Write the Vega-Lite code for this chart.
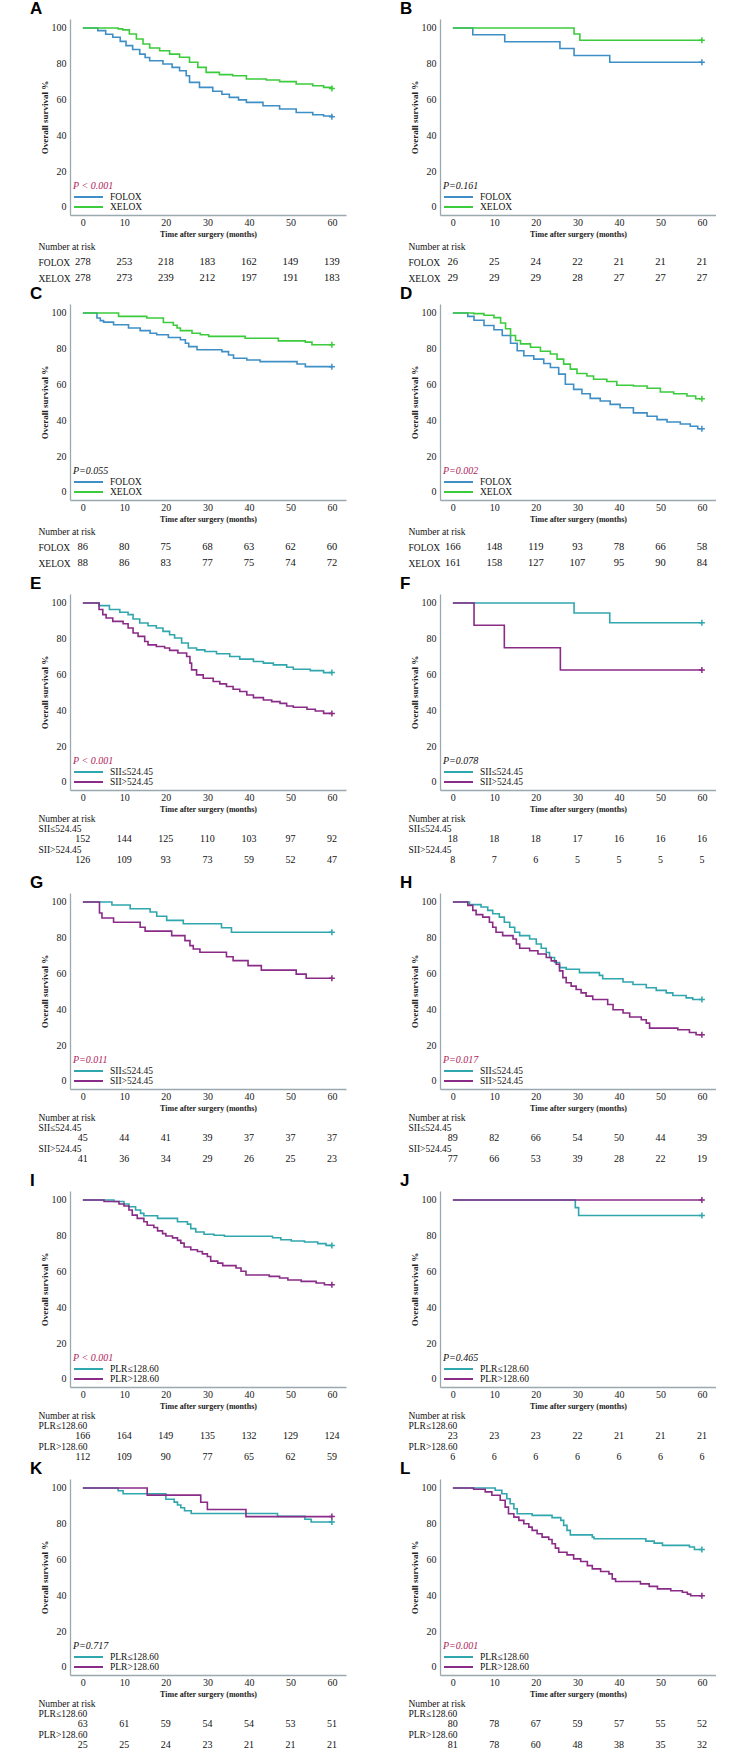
{
"$schema":"https://vega.github.io/schema/vega-lite/v6.json",
"padding":{"left":30,"top":0,"right":0,"bottom":0},
"background":"white",
"config":{
"view":{"stroke":null},
"font":"Liberation Serif",
"title":{"font":"Liberation Sans","fontSize":17,"fontWeight":"bold","anchor":"start","frame":"group","dx":-40,"offset":1,"color":"black"},
"axis":{"domainColor":"#9aa9ae","domainWidth":1.3,"ticks":false,"tickSize":0,"grid":false,"labelFont":"Liberation Serif","labelFontSize":10,"labelColor":"#222","titleFont":"Liberation Serif","titleFontWeight":"bold","titleColor":"#222","labelFlush":false},
"axisX":{"labelPadding":2,"titleFontSize":8,"titlePadding":3},
"axisY":{"labelPadding":4,"titleFontSize":9,"titlePadding":2},
"legend":{"orient":"bottom-left","offset":3,"padding":0,"symbolType":"stroke","symbolSize":841,"symbolStrokeWidth":2,"clipHeight":10,"rowPadding":0,"labelFont":"Liberation Serif","labelFontSize":9.5,"labelColor":"#111","labelOffset":6,"titleFont":"Liberation Serif","titleFontSize":10,"titleFontWeight":"normal","titleFontStyle":"italic","titlePadding":1,"titleColor":"#111","labelLimit":200}
},
"datasets":{
"km":[
{"p":"A","g":"FOLOX","t":0,"s":100},{"p":"A","g":"FOLOX","t":3.6,"s":98.5},{"p":"A","g":"FOLOX","t":5.5,"s":96.5},{"p":"A","g":"FOLOX","t":7.2,"s":94.8},{"p":"A","g":"FOLOX","t":9,"s":92.5},{"p":"A","g":"FOLOX","t":10.4,"s":90.1},{"p":"A","g":"FOLOX","t":12,"s":88},{"p":"A","g":"FOLOX","t":13.7,"s":85.4},{"p":"A","g":"FOLOX","t":15,"s":83.5},{"p":"A","g":"FOLOX","t":16.1,"s":81.7},{"p":"A","g":"FOLOX","t":19.3,"s":79.9},{"p":"A","g":"FOLOX","t":21.5,"s":78},{"p":"A","g":"FOLOX","t":23.3,"s":76.1},{"p":"A","g":"FOLOX","t":24.9,"s":73.3},{"p":"A","g":"FOLOX","t":25.7,"s":69.6},{"p":"A","g":"FOLOX","t":28.1,"s":66.8},{"p":"A","g":"FOLOX","t":31.3,"s":64.6},{"p":"A","g":"FOLOX","t":33.5,"s":63},{"p":"A","g":"FOLOX","t":35.3,"s":61.2},{"p":"A","g":"FOLOX","t":37.5,"s":59.8},{"p":"A","g":"FOLOX","t":39.4,"s":58.4},{"p":"A","g":"FOLOX","t":43.4,"s":56.5},{"p":"A","g":"FOLOX","t":47.4,"s":54.7},{"p":"A","g":"FOLOX","t":51.4,"s":52.8},{"p":"A","g":"FOLOX","t":55.4,"s":51.5},{"p":"A","g":"FOLOX","t":58,"s":50.8},{"p":"A","g":"FOLOX","t":60,"s":50.4},
{"p":"A","g":"XELOX","t":0,"s":100},{"p":"A","g":"XELOX","t":8.5,"s":99.5},{"p":"A","g":"XELOX","t":9.6,"s":98.9},{"p":"A","g":"XELOX","t":11.2,"s":96.6},{"p":"A","g":"XELOX","t":12.9,"s":93.8},{"p":"A","g":"XELOX","t":14.5,"s":91},{"p":"A","g":"XELOX","t":16.1,"s":88.8},{"p":"A","g":"XELOX","t":18.5,"s":87.3},{"p":"A","g":"XELOX","t":20.9,"s":85.4},{"p":"A","g":"XELOX","t":23.3,"s":83.6},{"p":"A","g":"XELOX","t":25.7,"s":80.8},{"p":"A","g":"XELOX","t":27.7,"s":78},{"p":"A","g":"XELOX","t":29.7,"s":75.2},{"p":"A","g":"XELOX","t":32.9,"s":73.9},{"p":"A","g":"XELOX","t":36.1,"s":73.3},{"p":"A","g":"XELOX","t":39.4,"s":71.5},{"p":"A","g":"XELOX","t":44.2,"s":70.9},{"p":"A","g":"XELOX","t":47.4,"s":70},{"p":"A","g":"XELOX","t":51.4,"s":68.7},{"p":"A","g":"XELOX","t":55.4,"s":67.7},{"p":"A","g":"XELOX","t":58,"s":66.8},{"p":"A","g":"XELOX","t":60,"s":66.2},
{"p":"B","g":"FOLOX","t":0,"s":100},{"p":"B","g":"FOLOX","t":4.8,"s":96.2},{"p":"B","g":"FOLOX","t":12.5,"s":92.3},{"p":"B","g":"FOLOX","t":25.8,"s":88.5},{"p":"B","g":"FOLOX","t":29.2,"s":84.6},{"p":"B","g":"FOLOX","t":37.8,"s":80.8},{"p":"B","g":"FOLOX","t":60,"s":80.8},
{"p":"B","g":"XELOX","t":0,"s":100},{"p":"B","g":"XELOX","t":29.2,"s":96.6},{"p":"B","g":"XELOX","t":30.6,"s":93.1},{"p":"B","g":"XELOX","t":60,"s":93.1},
{"p":"C","g":"FOLOX","t":0,"s":100},{"p":"C","g":"FOLOX","t":3.4,"s":97.2},{"p":"C","g":"FOLOX","t":4.2,"s":95.7},{"p":"C","g":"FOLOX","t":5,"s":94.9},{"p":"C","g":"FOLOX","t":7.4,"s":93.4},{"p":"C","g":"FOLOX","t":11,"s":91.6},{"p":"C","g":"FOLOX","t":13.8,"s":90.1},{"p":"C","g":"FOLOX","t":16.2,"s":88.7},{"p":"C","g":"FOLOX","t":17.8,"s":87.8},{"p":"C","g":"FOLOX","t":20.6,"s":86.3},{"p":"C","g":"FOLOX","t":23.5,"s":85},{"p":"C","g":"FOLOX","t":24.7,"s":83.1},{"p":"C","g":"FOLOX","t":25.5,"s":81.2},{"p":"C","g":"FOLOX","t":27.5,"s":79.4},{"p":"C","g":"FOLOX","t":33.5,"s":78.4},{"p":"C","g":"FOLOX","t":35.1,"s":76.5},{"p":"C","g":"FOLOX","t":36.3,"s":74.7},{"p":"C","g":"FOLOX","t":39.5,"s":73.7},{"p":"C","g":"FOLOX","t":42.7,"s":72.8},{"p":"C","g":"FOLOX","t":51.6,"s":71.5},{"p":"C","g":"FOLOX","t":53.6,"s":70},{"p":"C","g":"FOLOX","t":60,"s":70},
{"p":"C","g":"XELOX","t":0,"s":100},{"p":"C","g":"XELOX","t":8.6,"s":98.1},{"p":"C","g":"XELOX","t":15.4,"s":97.2},{"p":"C","g":"XELOX","t":19.4,"s":94.7},{"p":"C","g":"XELOX","t":21.8,"s":93.1},{"p":"C","g":"XELOX","t":22.7,"s":91.6},{"p":"C","g":"XELOX","t":23.5,"s":90.1},{"p":"C","g":"XELOX","t":26.3,"s":88.7},{"p":"C","g":"XELOX","t":28.3,"s":87.8},{"p":"C","g":"XELOX","t":30.3,"s":86.9},{"p":"C","g":"XELOX","t":39.1,"s":85.9},{"p":"C","g":"XELOX","t":47.1,"s":84.4},{"p":"C","g":"XELOX","t":53.6,"s":83.7},{"p":"C","g":"XELOX","t":55.2,"s":82.2},{"p":"C","g":"XELOX","t":60,"s":82.2},
{"p":"D","g":"FOLOX","t":0,"s":100},{"p":"D","g":"FOLOX","t":3.6,"s":98.1},{"p":"D","g":"FOLOX","t":5.1,"s":95.9},{"p":"D","g":"FOLOX","t":7.5,"s":93},{"p":"D","g":"FOLOX","t":9.9,"s":90.6},{"p":"D","g":"FOLOX","t":11.9,"s":87.4},{"p":"D","g":"FOLOX","t":13.9,"s":83.1},{"p":"D","g":"FOLOX","t":15.5,"s":78.9},{"p":"D","g":"FOLOX","t":17.1,"s":76.1},{"p":"D","g":"FOLOX","t":19.5,"s":74.2},{"p":"D","g":"FOLOX","t":21.9,"s":71.8},{"p":"D","g":"FOLOX","t":23.5,"s":69.5},{"p":"D","g":"FOLOX","t":25.5,"s":65.8},{"p":"D","g":"FOLOX","t":27.1,"s":60.2},{"p":"D","g":"FOLOX","t":29.1,"s":57.3},{"p":"D","g":"FOLOX","t":31.1,"s":54.9},{"p":"D","g":"FOLOX","t":33.1,"s":52.3},{"p":"D","g":"FOLOX","t":35.5,"s":50.8},{"p":"D","g":"FOLOX","t":37.9,"s":48.9},{"p":"D","g":"FOLOX","t":40.3,"s":47},{"p":"D","g":"FOLOX","t":43.5,"s":44.2},{"p":"D","g":"FOLOX","t":46.8,"s":42.3},{"p":"D","g":"FOLOX","t":49.2,"s":40.4},{"p":"D","g":"FOLOX","t":51.6,"s":39.1},{"p":"D","g":"FOLOX","t":54.8,"s":38},{"p":"D","g":"FOLOX","t":57.2,"s":36.7},{"p":"D","g":"FOLOX","t":59,"s":35.3},{"p":"D","g":"FOLOX","t":60,"s":35.3},
{"p":"D","g":"XELOX","t":0,"s":100},{"p":"D","g":"XELOX","t":5,"s":99.6},{"p":"D","g":"XELOX","t":7.5,"s":98.7},{"p":"D","g":"XELOX","t":9.9,"s":97.4},{"p":"D","g":"XELOX","t":11.5,"s":94.4},{"p":"D","g":"XELOX","t":12.7,"s":91.2},{"p":"D","g":"XELOX","t":13.9,"s":87.4},{"p":"D","g":"XELOX","t":15.1,"s":84.6},{"p":"D","g":"XELOX","t":16.3,"s":82.7},{"p":"D","g":"XELOX","t":18.7,"s":80.8},{"p":"D","g":"XELOX","t":21.1,"s":78.6},{"p":"D","g":"XELOX","t":23.5,"s":77.1},{"p":"D","g":"XELOX","t":25.1,"s":74.2},{"p":"D","g":"XELOX","t":26.7,"s":71.4},{"p":"D","g":"XELOX","t":28.3,"s":68.6},{"p":"D","g":"XELOX","t":29.9,"s":66.2},{"p":"D","g":"XELOX","t":32.3,"s":64.8},{"p":"D","g":"XELOX","t":33.9,"s":63},{"p":"D","g":"XELOX","t":37.1,"s":61.7},{"p":"D","g":"XELOX","t":39.5,"s":59.6},{"p":"D","g":"XELOX","t":43.5,"s":59.2},{"p":"D","g":"XELOX","t":46.8,"s":57.9},{"p":"D","g":"XELOX","t":50,"s":55.8},{"p":"D","g":"XELOX","t":53.2,"s":54.9},{"p":"D","g":"XELOX","t":56.4,"s":53.6},{"p":"D","g":"XELOX","t":58.5,"s":52.1},{"p":"D","g":"XELOX","t":60,"s":52.1},
{"p":"E","g":"SII≤524.45","t":0,"s":100},{"p":"E","g":"SII≤524.45","t":3.9,"s":98.5},{"p":"E","g":"SII≤524.45","t":6.4,"s":96.3},{"p":"E","g":"SII≤524.45","t":8.9,"s":94.8},{"p":"E","g":"SII≤524.45","t":10.9,"s":93.5},{"p":"E","g":"SII≤524.45","t":12.1,"s":91},{"p":"E","g":"SII≤524.45","t":13.7,"s":88.8},{"p":"E","g":"SII≤524.45","t":15.7,"s":87.3},{"p":"E","g":"SII≤524.45","t":17.7,"s":86},{"p":"E","g":"SII≤524.45","t":19.3,"s":84.1},{"p":"E","g":"SII≤524.45","t":20.9,"s":82.2},{"p":"E","g":"SII≤524.45","t":22.1,"s":80.4},{"p":"E","g":"SII≤524.45","t":23.8,"s":77.6},{"p":"E","g":"SII≤524.45","t":25.4,"s":74.8},{"p":"E","g":"SII≤524.45","t":27.4,"s":73.8},{"p":"E","g":"SII≤524.45","t":29.4,"s":72.9},{"p":"E","g":"SII≤524.45","t":32.2,"s":71.6},{"p":"E","g":"SII≤524.45","t":35.4,"s":70.1},{"p":"E","g":"SII≤524.45","t":37.8,"s":68.6},{"p":"E","g":"SII≤524.45","t":41.1,"s":67.3},{"p":"E","g":"SII≤524.45","t":43.5,"s":66.4},{"p":"E","g":"SII≤524.45","t":45.9,"s":65.4},{"p":"E","g":"SII≤524.45","t":49.1,"s":64.1},{"p":"E","g":"SII≤524.45","t":50.7,"s":63},{"p":"E","g":"SII≤524.45","t":54.8,"s":62.2},{"p":"E","g":"SII≤524.45","t":58,"s":61.1},{"p":"E","g":"SII≤524.45","t":60,"s":61.1},
{"p":"E","g":"SII>524.45","t":0,"s":100},{"p":"E","g":"SII>524.45","t":3.9,"s":96.3},{"p":"E","g":"SII>524.45","t":4.8,"s":93.5},{"p":"E","g":"SII>524.45","t":5.6,"s":91.6},{"p":"E","g":"SII>524.45","t":7.2,"s":89.7},{"p":"E","g":"SII>524.45","t":9.7,"s":88.4},{"p":"E","g":"SII>524.45","t":10.9,"s":86},{"p":"E","g":"SII>524.45","t":12.1,"s":83.2},{"p":"E","g":"SII>524.45","t":13.3,"s":81.3},{"p":"E","g":"SII>524.45","t":14.9,"s":78.5},{"p":"E","g":"SII>524.45","t":15.7,"s":76.6},{"p":"E","g":"SII>524.45","t":17.7,"s":75.7},{"p":"E","g":"SII>524.45","t":19.7,"s":74.8},{"p":"E","g":"SII>524.45","t":20.9,"s":73.5},{"p":"E","g":"SII>524.45","t":22.9,"s":72},{"p":"E","g":"SII>524.45","t":25,"s":70.1},{"p":"E","g":"SII>524.45","t":25.8,"s":66.4},{"p":"E","g":"SII>524.45","t":26.2,"s":62.6},{"p":"E","g":"SII>524.45","t":27.4,"s":59.8},{"p":"E","g":"SII>524.45","t":29,"s":57.9},{"p":"E","g":"SII>524.45","t":31.4,"s":56.1},{"p":"E","g":"SII>524.45","t":33,"s":54.8},{"p":"E","g":"SII>524.45","t":34.6,"s":53.3},{"p":"E","g":"SII>524.45","t":36.2,"s":51.8},{"p":"E","g":"SII>524.45","t":37.8,"s":50.5},{"p":"E","g":"SII>524.45","t":39.5,"s":48.6},{"p":"E","g":"SII>524.45","t":41.1,"s":47.1},{"p":"E","g":"SII>524.45","t":43.5,"s":45.8},{"p":"E","g":"SII>524.45","t":45.5,"s":44.9},{"p":"E","g":"SII>524.45","t":47.5,"s":43.9},{"p":"E","g":"SII>524.45","t":49.1,"s":42.4},{"p":"E","g":"SII>524.45","t":50.7,"s":41.7},{"p":"E","g":"SII>524.45","t":54,"s":40.6},{"p":"E","g":"SII>524.45","t":56,"s":39.6},{"p":"E","g":"SII>524.45","t":58,"s":38.3},{"p":"E","g":"SII>524.45","t":60,"s":38.3},
{"p":"F","g":"SII≤524.45","t":0,"s":100},{"p":"F","g":"SII≤524.45","t":29.2,"s":94.4},{"p":"F","g":"SII≤524.45","t":37.8,"s":88.9},{"p":"F","g":"SII≤524.45","t":60,"s":88.9},
{"p":"F","g":"SII>524.45","t":0,"s":100},{"p":"F","g":"SII>524.45","t":5.1,"s":87.5},{"p":"F","g":"SII>524.45","t":12.4,"s":75},{"p":"F","g":"SII>524.45","t":25.9,"s":62.5},{"p":"F","g":"SII>524.45","t":60,"s":62.5},
{"p":"G","g":"SII≤524.45","t":0,"s":100},{"p":"G","g":"SII≤524.45","t":7,"s":98.3},{"p":"G","g":"SII≤524.45","t":11.4,"s":96.2},{"p":"G","g":"SII≤524.45","t":16.2,"s":94.4},{"p":"G","g":"SII≤524.45","t":17.8,"s":92},{"p":"G","g":"SII≤524.45","t":20.2,"s":89.7},{"p":"G","g":"SII≤524.45","t":24.2,"s":87.8},{"p":"G","g":"SII≤524.45","t":33.4,"s":85.6},{"p":"G","g":"SII≤524.45","t":35.8,"s":83.1},{"p":"G","g":"SII≤524.45","t":60,"s":83.1},
{"p":"G","g":"SII>524.45","t":0,"s":100},{"p":"G","g":"SII>524.45","t":4,"s":93.8},{"p":"G","g":"SII>524.45","t":4.6,"s":91},{"p":"G","g":"SII>524.45","t":7.4,"s":88.7},{"p":"G","g":"SII>524.45","t":13.8,"s":85.9},{"p":"G","g":"SII>524.45","t":15,"s":83.7},{"p":"G","g":"SII>524.45","t":21.4,"s":81.2},{"p":"G","g":"SII>524.45","t":24.6,"s":78.4},{"p":"G","g":"SII>524.45","t":25.8,"s":75.6},{"p":"G","g":"SII>524.45","t":26.6,"s":73.7},{"p":"G","g":"SII>524.45","t":28.2,"s":71.9},{"p":"G","g":"SII>524.45","t":34.6,"s":69.4},{"p":"G","g":"SII>524.45","t":36.2,"s":67.2},{"p":"G","g":"SII>524.45","t":39.8,"s":64.4},{"p":"G","g":"SII>524.45","t":43,"s":61.9},{"p":"G","g":"SII>524.45","t":51.4,"s":59.7},{"p":"G","g":"SII>524.45","t":53.8,"s":57.4},{"p":"G","g":"SII>524.45","t":60,"s":57.4},
{"p":"H","g":"SII≤524.45","t":0,"s":100},{"p":"H","g":"SII≤524.45","t":4,"s":98.5},{"p":"H","g":"SII≤524.45","t":6.8,"s":97.2},{"p":"H","g":"SII≤524.45","t":8.4,"s":95.3},{"p":"H","g":"SII≤524.45","t":9.6,"s":93.4},{"p":"H","g":"SII≤524.45","t":11.2,"s":91.5},{"p":"H","g":"SII≤524.45","t":12.4,"s":88.7},{"p":"H","g":"SII≤524.45","t":13.7,"s":85.9},{"p":"H","g":"SII≤524.45","t":14.9,"s":83.1},{"p":"H","g":"SII≤524.45","t":16.1,"s":81.2},{"p":"H","g":"SII≤524.45","t":18.5,"s":79.3},{"p":"H","g":"SII≤524.45","t":20.1,"s":76.5},{"p":"H","g":"SII≤524.45","t":21.3,"s":74.1},{"p":"H","g":"SII≤524.45","t":22.5,"s":71.8},{"p":"H","g":"SII≤524.45","t":23.3,"s":69},{"p":"H","g":"SII≤524.45","t":24.5,"s":66.2},{"p":"H","g":"SII≤524.45","t":25.7,"s":63.3},{"p":"H","g":"SII≤524.45","t":27.3,"s":62.4},{"p":"H","g":"SII≤524.45","t":30.5,"s":60.5},{"p":"H","g":"SII≤524.45","t":35.3,"s":59},{"p":"H","g":"SII≤524.45","t":36.1,"s":57.1},{"p":"H","g":"SII≤524.45","t":41,"s":55.3},{"p":"H","g":"SII≤524.45","t":43.4,"s":53.9},{"p":"H","g":"SII≤524.45","t":46.6,"s":52.1},{"p":"H","g":"SII≤524.45","t":49,"s":50.6},{"p":"H","g":"SII≤524.45","t":51.4,"s":49.2},{"p":"H","g":"SII≤524.45","t":53,"s":47.7},{"p":"H","g":"SII≤524.45","t":56.2,"s":46.4},{"p":"H","g":"SII≤524.45","t":57.8,"s":45.5},{"p":"H","g":"SII≤524.45","t":60,"s":45.5},
{"p":"H","g":"SII>524.45","t":0,"s":100},{"p":"H","g":"SII>524.45","t":3.6,"s":98.1},{"p":"H","g":"SII>524.45","t":4.8,"s":95.3},{"p":"H","g":"SII>524.45","t":5.6,"s":92.9},{"p":"H","g":"SII>524.45","t":7.2,"s":91.5},{"p":"H","g":"SII>524.45","t":8.8,"s":88.7},{"p":"H","g":"SII>524.45","t":9.6,"s":85.9},{"p":"H","g":"SII>524.45","t":10.4,"s":83.1},{"p":"H","g":"SII>524.45","t":12,"s":81.2},{"p":"H","g":"SII>524.45","t":14.5,"s":79.3},{"p":"H","g":"SII>524.45","t":15.3,"s":76.5},{"p":"H","g":"SII>524.45","t":16.1,"s":74.1},{"p":"H","g":"SII>524.45","t":18.5,"s":72.7},{"p":"H","g":"SII>524.45","t":20.5,"s":70.9},{"p":"H","g":"SII>524.45","t":22.5,"s":69},{"p":"H","g":"SII>524.45","t":23.7,"s":67.1},{"p":"H","g":"SII>524.45","t":24.9,"s":65.2},{"p":"H","g":"SII>524.45","t":25.7,"s":61.5},{"p":"H","g":"SII>524.45","t":26.5,"s":57.7},{"p":"H","g":"SII>524.45","t":27.3,"s":54.9},{"p":"H","g":"SII>524.45","t":28.5,"s":53},{"p":"H","g":"SII>524.45","t":29.7,"s":51.1},{"p":"H","g":"SII>524.45","t":30.9,"s":49.2},{"p":"H","g":"SII>524.45","t":32.1,"s":47.4},{"p":"H","g":"SII>524.45","t":33.7,"s":45.5},{"p":"H","g":"SII>524.45","t":37.3,"s":42.7},{"p":"H","g":"SII>524.45","t":38.6,"s":39.8},{"p":"H","g":"SII>524.45","t":41,"s":38},{"p":"H","g":"SII>524.45","t":42.6,"s":35.7},{"p":"H","g":"SII>524.45","t":45.4,"s":34.2},{"p":"H","g":"SII>524.45","t":46.6,"s":32.3},{"p":"H","g":"SII>524.45","t":47.4,"s":29.5},{"p":"H","g":"SII>524.45","t":54.2,"s":28.6},{"p":"H","g":"SII>524.45","t":57,"s":27.1},{"p":"H","g":"SII>524.45","t":58.6,"s":25.8},{"p":"H","g":"SII>524.45","t":60,"s":25.8},
{"p":"I","g":"PLR≤128.60","t":0,"s":100},{"p":"I","g":"PLR≤128.60","t":7.5,"s":99.1},{"p":"I","g":"PLR≤128.60","t":9.9,"s":97.7},{"p":"I","g":"PLR≤128.60","t":11.1,"s":96.2},{"p":"I","g":"PLR≤128.60","t":12.7,"s":94.4},{"p":"I","g":"PLR≤128.60","t":13.9,"s":92.5},{"p":"I","g":"PLR≤128.60","t":14.7,"s":91.2},{"p":"I","g":"PLR≤128.60","t":18,"s":89.7},{"p":"I","g":"PLR≤128.60","t":22.8,"s":87.8},{"p":"I","g":"PLR≤128.60","t":25.2,"s":86.5},{"p":"I","g":"PLR≤128.60","t":26,"s":84},{"p":"I","g":"PLR≤128.60","t":27.2,"s":82.1},{"p":"I","g":"PLR≤128.60","t":29.2,"s":80.8},{"p":"I","g":"PLR≤128.60","t":31.6,"s":80.3},{"p":"I","g":"PLR≤128.60","t":34.1,"s":79.7},{"p":"I","g":"PLR≤128.60","t":45.7,"s":78.9},{"p":"I","g":"PLR≤128.60","t":47.7,"s":77.8},{"p":"I","g":"PLR≤128.60","t":50.2,"s":77.1},{"p":"I","g":"PLR≤128.60","t":53.4,"s":76.5},{"p":"I","g":"PLR≤128.60","t":56.6,"s":75.6},{"p":"I","g":"PLR≤128.60","t":58.6,"s":74.6},{"p":"I","g":"PLR≤128.60","t":60,"s":74.6},
{"p":"I","g":"PLR>128.60","t":0,"s":100},{"p":"I","g":"PLR>128.60","t":5.1,"s":99.1},{"p":"I","g":"PLR>128.60","t":8.7,"s":97.7},{"p":"I","g":"PLR>128.60","t":9.9,"s":96.6},{"p":"I","g":"PLR>128.60","t":11.1,"s":94.4},{"p":"I","g":"PLR>128.60","t":11.9,"s":91.5},{"p":"I","g":"PLR>128.60","t":13.1,"s":89.7},{"p":"I","g":"PLR>128.60","t":14.7,"s":87.8},{"p":"I","g":"PLR>128.60","t":15.5,"s":85.9},{"p":"I","g":"PLR>128.60","t":17.1,"s":84.6},{"p":"I","g":"PLR>128.60","t":18,"s":82.7},{"p":"I","g":"PLR>128.60","t":19.2,"s":81.2},{"p":"I","g":"PLR>128.60","t":20,"s":79.9},{"p":"I","g":"PLR>128.60","t":21.6,"s":78.8},{"p":"I","g":"PLR>128.60","t":22.8,"s":77.4},{"p":"I","g":"PLR>128.60","t":23.6,"s":75.9},{"p":"I","g":"PLR>128.60","t":24.4,"s":73.7},{"p":"I","g":"PLR>128.60","t":26,"s":72.2},{"p":"I","g":"PLR>128.60","t":27.6,"s":71.2},{"p":"I","g":"PLR>128.60","t":28.8,"s":69.9},{"p":"I","g":"PLR>128.60","t":30,"s":68.4},{"p":"I","g":"PLR>128.60","t":30.8,"s":65.8},{"p":"I","g":"PLR>128.60","t":32.5,"s":64.7},{"p":"I","g":"PLR>128.60","t":33.7,"s":63.3},{"p":"I","g":"PLR>128.60","t":36.9,"s":62},{"p":"I","g":"PLR>128.60","t":38.1,"s":60.2},{"p":"I","g":"PLR>128.60","t":39.3,"s":58.1},{"p":"I","g":"PLR>128.60","t":44.9,"s":57.3},{"p":"I","g":"PLR>128.60","t":47.4,"s":56.4},{"p":"I","g":"PLR>128.60","t":49.4,"s":55.3},{"p":"I","g":"PLR>128.60","t":52.6,"s":54.5},{"p":"I","g":"PLR>128.60","t":56.2,"s":53.6},{"p":"I","g":"PLR>128.60","t":58.2,"s":52.6},{"p":"I","g":"PLR>128.60","t":60,"s":52.6},
{"p":"J","g":"PLR≤128.60","t":0,"s":100},{"p":"J","g":"PLR≤128.60","t":29.5,"s":95.7},{"p":"J","g":"PLR≤128.60","t":30.3,"s":91.3},{"p":"J","g":"PLR≤128.60","t":60,"s":91.3},
{"p":"J","g":"PLR>128.60","t":0,"s":100},{"p":"J","g":"PLR>128.60","t":60,"s":100},
{"p":"K","g":"PLR≤128.60","t":0,"s":100},{"p":"K","g":"PLR≤128.60","t":8.5,"s":98.4},{"p":"K","g":"PLR≤128.60","t":9.7,"s":96.8},{"p":"K","g":"PLR≤128.60","t":20,"s":93.7},{"p":"K","g":"PLR≤128.60","t":22,"s":92.1},{"p":"K","g":"PLR≤128.60","t":22.8,"s":90.5},{"p":"K","g":"PLR≤128.60","t":23.6,"s":88.9},{"p":"K","g":"PLR≤128.60","t":24.5,"s":87.3},{"p":"K","g":"PLR≤128.60","t":26.1,"s":85.7},{"p":"K","g":"PLR≤128.60","t":46.9,"s":84.1},{"p":"K","g":"PLR≤128.60","t":53.5,"s":82.5},{"p":"K","g":"PLR≤128.60","t":55,"s":81},{"p":"K","g":"PLR≤128.60","t":60,"s":81},
{"p":"K","g":"PLR>128.60","t":0,"s":100},{"p":"K","g":"PLR>128.60","t":15.5,"s":96},{"p":"K","g":"PLR>128.60","t":28.4,"s":92},{"p":"K","g":"PLR>128.60","t":30,"s":88},{"p":"K","g":"PLR>128.60","t":39.3,"s":84},{"p":"K","g":"PLR>128.60","t":60,"s":84},
{"p":"L","g":"PLR≤128.60","t":0,"s":100},{"p":"L","g":"PLR≤128.60","t":10.2,"s":98.7},{"p":"L","g":"PLR≤128.60","t":11.8,"s":96.8},{"p":"L","g":"PLR≤128.60","t":13,"s":94},{"p":"L","g":"PLR≤128.60","t":13.8,"s":91.2},{"p":"L","g":"PLR≤128.60","t":14.7,"s":88.4},{"p":"L","g":"PLR≤128.60","t":15.5,"s":85.6},{"p":"L","g":"PLR≤128.60","t":19.1,"s":84.7},{"p":"L","g":"PLR≤128.60","t":23.9,"s":83.4},{"p":"L","g":"PLR≤128.60","t":26,"s":81.9},{"p":"L","g":"PLR≤128.60","t":26.7,"s":79.1},{"p":"L","g":"PLR≤128.60","t":27.5,"s":76.3},{"p":"L","g":"PLR≤128.60","t":28.3,"s":73.8},{"p":"L","g":"PLR≤128.60","t":33.6,"s":72.5},{"p":"L","g":"PLR≤128.60","t":34,"s":71.6},{"p":"L","g":"PLR≤128.60","t":46.5,"s":70.3},{"p":"L","g":"PLR≤128.60","t":48.5,"s":69.2},{"p":"L","g":"PLR≤128.60","t":50.5,"s":67.9},{"p":"L","g":"PLR≤128.60","t":57,"s":67},{"p":"L","g":"PLR≤128.60","t":58.2,"s":65.6},{"p":"L","g":"PLR≤128.60","t":60,"s":65.6},
{"p":"L","g":"PLR>128.60","t":0,"s":100},{"p":"L","g":"PLR>128.60","t":5,"s":99.3},{"p":"L","g":"PLR>128.60","t":7.8,"s":97.8},{"p":"L","g":"PLR>128.60","t":9.4,"s":95.9},{"p":"L","g":"PLR>128.60","t":11.4,"s":93.1},{"p":"L","g":"PLR>128.60","t":12.6,"s":89.3},{"p":"L","g":"PLR>128.60","t":13.4,"s":85.6},{"p":"L","g":"PLR>128.60","t":14.7,"s":83.7},{"p":"L","g":"PLR>128.60","t":15.9,"s":81.9},{"p":"L","g":"PLR>128.60","t":17.1,"s":80},{"p":"L","g":"PLR>128.60","t":18.3,"s":78.1},{"p":"L","g":"PLR>128.60","t":19.1,"s":76.3},{"p":"L","g":"PLR>128.60","t":20.3,"s":74.4},{"p":"L","g":"PLR>128.60","t":21.5,"s":72.5},{"p":"L","g":"PLR>128.60","t":23.1,"s":71.2},{"p":"L","g":"PLR>128.60","t":23.9,"s":68.8},{"p":"L","g":"PLR>128.60","t":24.7,"s":66.4},{"p":"L","g":"PLR>128.60","t":25.5,"s":64.1},{"p":"L","g":"PLR>128.60","t":27.5,"s":62.6},{"p":"L","g":"PLR>128.60","t":29.1,"s":60.4},{"p":"L","g":"PLR>128.60","t":30.8,"s":58.9},{"p":"L","g":"PLR>128.60","t":32.4,"s":56.6},{"p":"L","g":"PLR>128.60","t":33.6,"s":54.8},{"p":"L","g":"PLR>128.60","t":35.6,"s":53.3},{"p":"L","g":"PLR>128.60","t":37.6,"s":52},{"p":"L","g":"PLR>128.60","t":38.4,"s":49.2},{"p":"L","g":"PLR>128.60","t":39.2,"s":47.7},{"p":"L","g":"PLR>128.60","t":45.2,"s":46.4},{"p":"L","g":"PLR>128.60","t":47.3,"s":45},{"p":"L","g":"PLR>128.60","t":49.3,"s":43.6},{"p":"L","g":"PLR>128.60","t":52.5,"s":42.6},{"p":"L","g":"PLR>128.60","t":55.3,"s":41.7},{"p":"L","g":"PLR>128.60","t":56.5,"s":40.7},{"p":"L","g":"PLR>128.60","t":57.3,"s":39.8},{"p":"L","g":"PLR>128.60","t":60,"s":39.8}
],
"risk":[
{"p":"A","r":1,"t":0,"n":"278"},{"p":"A","r":1,"t":10,"n":"253"},{"p":"A","r":1,"t":20,"n":"218"},{"p":"A","r":1,"t":30,"n":"183"},{"p":"A","r":1,"t":40,"n":"162"},{"p":"A","r":1,"t":50,"n":"149"},{"p":"A","r":1,"t":60,"n":"139"},
{"p":"A","r":2,"t":0,"n":"278"},{"p":"A","r":2,"t":10,"n":"273"},{"p":"A","r":2,"t":20,"n":"239"},{"p":"A","r":2,"t":30,"n":"212"},{"p":"A","r":2,"t":40,"n":"197"},{"p":"A","r":2,"t":50,"n":"191"},{"p":"A","r":2,"t":60,"n":"183"},
{"p":"B","r":1,"t":0,"n":"26"},{"p":"B","r":1,"t":10,"n":"25"},{"p":"B","r":1,"t":20,"n":"24"},{"p":"B","r":1,"t":30,"n":"22"},{"p":"B","r":1,"t":40,"n":"21"},{"p":"B","r":1,"t":50,"n":"21"},{"p":"B","r":1,"t":60,"n":"21"},
{"p":"B","r":2,"t":0,"n":"29"},{"p":"B","r":2,"t":10,"n":"29"},{"p":"B","r":2,"t":20,"n":"29"},{"p":"B","r":2,"t":30,"n":"28"},{"p":"B","r":2,"t":40,"n":"27"},{"p":"B","r":2,"t":50,"n":"27"},{"p":"B","r":2,"t":60,"n":"27"},
{"p":"C","r":1,"t":0,"n":"86"},{"p":"C","r":1,"t":10,"n":"80"},{"p":"C","r":1,"t":20,"n":"75"},{"p":"C","r":1,"t":30,"n":"68"},{"p":"C","r":1,"t":40,"n":"63"},{"p":"C","r":1,"t":50,"n":"62"},{"p":"C","r":1,"t":60,"n":"60"},
{"p":"C","r":2,"t":0,"n":"88"},{"p":"C","r":2,"t":10,"n":"86"},{"p":"C","r":2,"t":20,"n":"83"},{"p":"C","r":2,"t":30,"n":"77"},{"p":"C","r":2,"t":40,"n":"75"},{"p":"C","r":2,"t":50,"n":"74"},{"p":"C","r":2,"t":60,"n":"72"},
{"p":"D","r":1,"t":0,"n":"166"},{"p":"D","r":1,"t":10,"n":"148"},{"p":"D","r":1,"t":20,"n":"119"},{"p":"D","r":1,"t":30,"n":"93"},{"p":"D","r":1,"t":40,"n":"78"},{"p":"D","r":1,"t":50,"n":"66"},{"p":"D","r":1,"t":60,"n":"58"},
{"p":"D","r":2,"t":0,"n":"161"},{"p":"D","r":2,"t":10,"n":"158"},{"p":"D","r":2,"t":20,"n":"127"},{"p":"D","r":2,"t":30,"n":"107"},{"p":"D","r":2,"t":40,"n":"95"},{"p":"D","r":2,"t":50,"n":"90"},{"p":"D","r":2,"t":60,"n":"84"},
{"p":"E","r":2,"t":0,"n":"152"},{"p":"E","r":2,"t":10,"n":"144"},{"p":"E","r":2,"t":20,"n":"125"},{"p":"E","r":2,"t":30,"n":"110"},{"p":"E","r":2,"t":40,"n":"103"},{"p":"E","r":2,"t":50,"n":"97"},{"p":"E","r":2,"t":60,"n":"92"},
{"p":"E","r":4,"t":0,"n":"126"},{"p":"E","r":4,"t":10,"n":"109"},{"p":"E","r":4,"t":20,"n":"93"},{"p":"E","r":4,"t":30,"n":"73"},{"p":"E","r":4,"t":40,"n":"59"},{"p":"E","r":4,"t":50,"n":"52"},{"p":"E","r":4,"t":60,"n":"47"},
{"p":"F","r":2,"t":0,"n":"18"},{"p":"F","r":2,"t":10,"n":"18"},{"p":"F","r":2,"t":20,"n":"18"},{"p":"F","r":2,"t":30,"n":"17"},{"p":"F","r":2,"t":40,"n":"16"},{"p":"F","r":2,"t":50,"n":"16"},{"p":"F","r":2,"t":60,"n":"16"},
{"p":"F","r":4,"t":0,"n":"8"},{"p":"F","r":4,"t":10,"n":"7"},{"p":"F","r":4,"t":20,"n":"6"},{"p":"F","r":4,"t":30,"n":"5"},{"p":"F","r":4,"t":40,"n":"5"},{"p":"F","r":4,"t":50,"n":"5"},{"p":"F","r":4,"t":60,"n":"5"},
{"p":"G","r":2,"t":0,"n":"45"},{"p":"G","r":2,"t":10,"n":"44"},{"p":"G","r":2,"t":20,"n":"41"},{"p":"G","r":2,"t":30,"n":"39"},{"p":"G","r":2,"t":40,"n":"37"},{"p":"G","r":2,"t":50,"n":"37"},{"p":"G","r":2,"t":60,"n":"37"},
{"p":"G","r":4,"t":0,"n":"41"},{"p":"G","r":4,"t":10,"n":"36"},{"p":"G","r":4,"t":20,"n":"34"},{"p":"G","r":4,"t":30,"n":"29"},{"p":"G","r":4,"t":40,"n":"26"},{"p":"G","r":4,"t":50,"n":"25"},{"p":"G","r":4,"t":60,"n":"23"},
{"p":"H","r":2,"t":0,"n":"89"},{"p":"H","r":2,"t":10,"n":"82"},{"p":"H","r":2,"t":20,"n":"66"},{"p":"H","r":2,"t":30,"n":"54"},{"p":"H","r":2,"t":40,"n":"50"},{"p":"H","r":2,"t":50,"n":"44"},{"p":"H","r":2,"t":60,"n":"39"},
{"p":"H","r":4,"t":0,"n":"77"},{"p":"H","r":4,"t":10,"n":"66"},{"p":"H","r":4,"t":20,"n":"53"},{"p":"H","r":4,"t":30,"n":"39"},{"p":"H","r":4,"t":40,"n":"28"},{"p":"H","r":4,"t":50,"n":"22"},{"p":"H","r":4,"t":60,"n":"19"},
{"p":"I","r":2,"t":0,"n":"166"},{"p":"I","r":2,"t":10,"n":"164"},{"p":"I","r":2,"t":20,"n":"149"},{"p":"I","r":2,"t":30,"n":"135"},{"p":"I","r":2,"t":40,"n":"132"},{"p":"I","r":2,"t":50,"n":"129"},{"p":"I","r":2,"t":60,"n":"124"},
{"p":"I","r":4,"t":0,"n":"112"},{"p":"I","r":4,"t":10,"n":"109"},{"p":"I","r":4,"t":20,"n":"90"},{"p":"I","r":4,"t":30,"n":"77"},{"p":"I","r":4,"t":40,"n":"65"},{"p":"I","r":4,"t":50,"n":"62"},{"p":"I","r":4,"t":60,"n":"59"},
{"p":"J","r":2,"t":0,"n":"23"},{"p":"J","r":2,"t":10,"n":"23"},{"p":"J","r":2,"t":20,"n":"23"},{"p":"J","r":2,"t":30,"n":"22"},{"p":"J","r":2,"t":40,"n":"21"},{"p":"J","r":2,"t":50,"n":"21"},{"p":"J","r":2,"t":60,"n":"21"},
{"p":"J","r":4,"t":0,"n":"6"},{"p":"J","r":4,"t":10,"n":"6"},{"p":"J","r":4,"t":20,"n":"6"},{"p":"J","r":4,"t":30,"n":"6"},{"p":"J","r":4,"t":40,"n":"6"},{"p":"J","r":4,"t":50,"n":"6"},{"p":"J","r":4,"t":60,"n":"6"},
{"p":"K","r":2,"t":0,"n":"63"},{"p":"K","r":2,"t":10,"n":"61"},{"p":"K","r":2,"t":20,"n":"59"},{"p":"K","r":2,"t":30,"n":"54"},{"p":"K","r":2,"t":40,"n":"54"},{"p":"K","r":2,"t":50,"n":"53"},{"p":"K","r":2,"t":60,"n":"51"},
{"p":"K","r":4,"t":0,"n":"25"},{"p":"K","r":4,"t":10,"n":"25"},{"p":"K","r":4,"t":20,"n":"24"},{"p":"K","r":4,"t":30,"n":"23"},{"p":"K","r":4,"t":40,"n":"21"},{"p":"K","r":4,"t":50,"n":"21"},{"p":"K","r":4,"t":60,"n":"21"},
{"p":"L","r":2,"t":0,"n":"80"},{"p":"L","r":2,"t":10,"n":"78"},{"p":"L","r":2,"t":20,"n":"67"},{"p":"L","r":2,"t":30,"n":"59"},{"p":"L","r":2,"t":40,"n":"57"},{"p":"L","r":2,"t":50,"n":"55"},{"p":"L","r":2,"t":60,"n":"52"},
{"p":"L","r":4,"t":0,"n":"81"},{"p":"L","r":4,"t":10,"n":"78"},{"p":"L","r":4,"t":20,"n":"60"},{"p":"L","r":4,"t":30,"n":"48"},{"p":"L","r":4,"t":40,"n":"38"},{"p":"L","r":4,"t":50,"n":"35"},{"p":"L","r":4,"t":60,"n":"32"}
]
},
"columns":2,
"spacing":{"row":23,"column":94},
"bounds":"flush",
"resolve":{"scale":{"x":"independent","y":"independent","color":"independent"},"axis":{"x":"independent","y":"independent"},"legend":{"color":"independent"}},
"concat":[
{"title":"A","width":276,"height":196,"data":{"name":"km"},"transform":[{"filter":"datum.p=='A'"}],
"encoding":{"x":{"field":"t","type":"quantitative","scale":{"domain":[-3.1,63.4],"nice":false,"zero":false},"axis":{"values":[0,10,20,30,40,50,60],"title":"Time after surgery (months)"}},"y":{"field":"s","type":"quantitative","scale":{"domain":[-4.5,105],"nice":false,"zero":false},"axis":{"values":[0,20,40,60,80,100],"title":"Overall survival %"}}},
"layer":[{"mark":{"type":"line","interpolate":"step-after","strokeWidth":1.6},"encoding":{"color":{"field":"g","type":"nominal","scale":{"domain":["FOLOX","XELOX"],"range":["#3f8fc6","#3ccb3c"]},"legend":{"title":"P < 0.001","titleColor":"#b0245a"}}}},
{"transform":[{"filter":"datum.t==60"}],"mark":{"type":"point","shape":"M-1,0H1M0,-1V1","filled":false,"size":36,"strokeWidth":1.5,"opacity":1},"encoding":{"color":{"field":"g","type":"nominal","scale":{"domain":["FOLOX","XELOX"],"range":["#3f8fc6","#3ccb3c"]},"legend":null}}}]},
{"title":"B","width":276,"height":196,"data":{"name":"km"},"transform":[{"filter":"datum.p=='B'"}],
"encoding":{"x":{"field":"t","type":"quantitative","scale":{"domain":[-3.1,63.4],"nice":false,"zero":false},"axis":{"values":[0,10,20,30,40,50,60],"title":"Time after surgery (months)"}},"y":{"field":"s","type":"quantitative","scale":{"domain":[-4.5,105],"nice":false,"zero":false},"axis":{"values":[0,20,40,60,80,100],"title":"Overall survival %"}}},
"layer":[{"mark":{"type":"line","interpolate":"step-after","strokeWidth":1.6},"encoding":{"color":{"field":"g","type":"nominal","scale":{"domain":["FOLOX","XELOX"],"range":["#3f8fc6","#3ccb3c"]},"legend":{"title":"P=0.161"}}}},
{"transform":[{"filter":"datum.t==60"}],"mark":{"type":"point","shape":"M-1,0H1M0,-1V1","filled":false,"size":36,"strokeWidth":1.5,"opacity":1},"encoding":{"color":{"field":"g","type":"nominal","scale":{"domain":["FOLOX","XELOX"],"range":["#3f8fc6","#3ccb3c"]},"legend":null}}}]},
{"width":276,"height":43,"data":{"name":"risk"},"transform":[{"filter":"datum.p=='A'"}],"mark":{"type":"text","fontSize":10.5,"font":"Liberation Serif","color":"#111"},
"encoding":{"x":{"field":"t","type":"quantitative","scale":{"domain":[-3.1,63.4],"nice":false,"zero":false},"axis":null},"y":{"field":"r","type":"quantitative","scale":{"domain":[-0.5,2.1875],"nice":false,"zero":false,"reverse":true},"axis":{"values":[0,1,2],"labelExpr":"['Number at risk','FOLOX','XELOX'][datum.value]","domain":false,"labelAlign":"left","labelPadding":32,"title":null,"labelFontSize":9.5,"labelColor":"#111","labelBound":false,"labelOverlap":false}},"text":{"field":"n"}}},
{"width":276,"height":43,"data":{"name":"risk"},"transform":[{"filter":"datum.p=='B'"}],"mark":{"type":"text","fontSize":10.5,"font":"Liberation Serif","color":"#111"},
"encoding":{"x":{"field":"t","type":"quantitative","scale":{"domain":[-3.1,63.4],"nice":false,"zero":false},"axis":null},"y":{"field":"r","type":"quantitative","scale":{"domain":[-0.5,2.1875],"nice":false,"zero":false,"reverse":true},"axis":{"values":[0,1,2],"labelExpr":"['Number at risk','FOLOX','XELOX'][datum.value]","domain":false,"labelAlign":"left","labelPadding":32,"title":null,"labelFontSize":9.5,"labelColor":"#111","labelBound":false,"labelOverlap":false}},"text":{"field":"n"}}},
{"title":"C","width":276,"height":196,"data":{"name":"km"},"transform":[{"filter":"datum.p=='C'"}],
"encoding":{"x":{"field":"t","type":"quantitative","scale":{"domain":[-3.1,63.4],"nice":false,"zero":false},"axis":{"values":[0,10,20,30,40,50,60],"title":"Time after surgery (months)"}},"y":{"field":"s","type":"quantitative","scale":{"domain":[-4.5,105],"nice":false,"zero":false},"axis":{"values":[0,20,40,60,80,100],"title":"Overall survival %"}}},
"layer":[{"mark":{"type":"line","interpolate":"step-after","strokeWidth":1.6},"encoding":{"color":{"field":"g","type":"nominal","scale":{"domain":["FOLOX","XELOX"],"range":["#3f8fc6","#3ccb3c"]},"legend":{"title":"P=0.055"}}}},
{"transform":[{"filter":"datum.t==60"}],"mark":{"type":"point","shape":"M-1,0H1M0,-1V1","filled":false,"size":36,"strokeWidth":1.5,"opacity":1},"encoding":{"color":{"field":"g","type":"nominal","scale":{"domain":["FOLOX","XELOX"],"range":["#3f8fc6","#3ccb3c"]},"legend":null}}}]},
{"title":"D","width":276,"height":196,"data":{"name":"km"},"transform":[{"filter":"datum.p=='D'"}],
"encoding":{"x":{"field":"t","type":"quantitative","scale":{"domain":[-3.1,63.4],"nice":false,"zero":false},"axis":{"values":[0,10,20,30,40,50,60],"title":"Time after surgery (months)"}},"y":{"field":"s","type":"quantitative","scale":{"domain":[-4.5,105],"nice":false,"zero":false},"axis":{"values":[0,20,40,60,80,100],"title":"Overall survival %"}}},
"layer":[{"mark":{"type":"line","interpolate":"step-after","strokeWidth":1.6},"encoding":{"color":{"field":"g","type":"nominal","scale":{"domain":["FOLOX","XELOX"],"range":["#3f8fc6","#3ccb3c"]},"legend":{"title":"P=0.002","titleColor":"#b0245a"}}}},
{"transform":[{"filter":"datum.t==60"}],"mark":{"type":"point","shape":"M-1,0H1M0,-1V1","filled":false,"size":36,"strokeWidth":1.5,"opacity":1},"encoding":{"color":{"field":"g","type":"nominal","scale":{"domain":["FOLOX","XELOX"],"range":["#3f8fc6","#3ccb3c"]},"legend":null}}}]},
{"width":276,"height":48,"data":{"name":"risk"},"transform":[{"filter":"datum.p=='C'"}],"mark":{"type":"text","fontSize":10.5,"font":"Liberation Serif","color":"#111"},
"encoding":{"x":{"field":"t","type":"quantitative","scale":{"domain":[-3.1,63.4],"nice":false,"zero":false},"axis":null},"y":{"field":"r","type":"quantitative","scale":{"domain":[-0.5,2.5],"nice":false,"zero":false,"reverse":true},"axis":{"values":[0,1,2],"labelExpr":"['Number at risk','FOLOX','XELOX'][datum.value]","domain":false,"labelAlign":"left","labelPadding":32,"title":null,"labelFontSize":9.5,"labelColor":"#111","labelBound":false,"labelOverlap":false}},"text":{"field":"n"}}},
{"width":276,"height":48,"data":{"name":"risk"},"transform":[{"filter":"datum.p=='D'"}],"mark":{"type":"text","fontSize":10.5,"font":"Liberation Serif","color":"#111"},
"encoding":{"x":{"field":"t","type":"quantitative","scale":{"domain":[-3.1,63.4],"nice":false,"zero":false},"axis":null},"y":{"field":"r","type":"quantitative","scale":{"domain":[-0.5,2.5],"nice":false,"zero":false,"reverse":true},"axis":{"values":[0,1,2],"labelExpr":"['Number at risk','FOLOX','XELOX'][datum.value]","domain":false,"labelAlign":"left","labelPadding":32,"title":null,"labelFontSize":9.5,"labelColor":"#111","labelBound":false,"labelOverlap":false}},"text":{"field":"n"}}},
{"title":"E","width":276,"height":196,"data":{"name":"km"},"transform":[{"filter":"datum.p=='E'"}],
"encoding":{"x":{"field":"t","type":"quantitative","scale":{"domain":[-3.1,63.4],"nice":false,"zero":false},"axis":{"values":[0,10,20,30,40,50,60],"title":"Time after surgery (months)"}},"y":{"field":"s","type":"quantitative","scale":{"domain":[-4.5,105],"nice":false,"zero":false},"axis":{"values":[0,20,40,60,80,100],"title":"Overall survival %"}}},
"layer":[{"mark":{"type":"line","interpolate":"step-after","strokeWidth":1.6},"encoding":{"color":{"field":"g","type":"nominal","scale":{"domain":["SII≤524.45","SII>524.45"],"range":["#30a7ad","#892b87"]},"legend":{"title":"P < 0.001","titleColor":"#b0245a"}}}},
{"transform":[{"filter":"datum.t==60"}],"mark":{"type":"point","shape":"M-1,0H1M0,-1V1","filled":false,"size":36,"strokeWidth":1.5,"opacity":1},"encoding":{"color":{"field":"g","type":"nominal","scale":{"domain":["SII≤524.45","SII>524.45"],"range":["#30a7ad","#892b87"]},"legend":null}}}]},
{"title":"F","width":276,"height":196,"data":{"name":"km"},"transform":[{"filter":"datum.p=='F'"}],
"encoding":{"x":{"field":"t","type":"quantitative","scale":{"domain":[-3.1,63.4],"nice":false,"zero":false},"axis":{"values":[0,10,20,30,40,50,60],"title":"Time after surgery (months)"}},"y":{"field":"s","type":"quantitative","scale":{"domain":[-4.5,105],"nice":false,"zero":false},"axis":{"values":[0,20,40,60,80,100],"title":"Overall survival %"}}},
"layer":[{"mark":{"type":"line","interpolate":"step-after","strokeWidth":1.6},"encoding":{"color":{"field":"g","type":"nominal","scale":{"domain":["SII≤524.45","SII>524.45"],"range":["#30a7ad","#892b87"]},"legend":{"title":"P=0.078"}}}},
{"transform":[{"filter":"datum.t==60"}],"mark":{"type":"point","shape":"M-1,0H1M0,-1V1","filled":false,"size":36,"strokeWidth":1.5,"opacity":1},"encoding":{"color":{"field":"g","type":"nominal","scale":{"domain":["SII≤524.45","SII>524.45"],"range":["#30a7ad","#892b87"]},"legend":null}}}]},
{"width":276,"height":57,"data":{"name":"risk"},"transform":[{"filter":"datum.p=='E'"}],"mark":{"type":"text","fontSize":10,"font":"Liberation Serif","color":"#111"},
"encoding":{"x":{"field":"t","type":"quantitative","scale":{"domain":[-3.1,63.4],"nice":false,"zero":false},"axis":null},"y":{"field":"r","type":"quantitative","scale":{"domain":[-0.5,4.981],"nice":false,"zero":false,"reverse":true},"axis":{"values":[0,1,3],"labelExpr":"['Number at risk','SII≤524.45','','SII>524.45',''][datum.value]","domain":false,"labelAlign":"left","labelPadding":32,"title":null,"labelFontSize":9.5,"labelColor":"#111","labelBound":false,"labelOverlap":false}},"text":{"field":"n"}}},
{"width":276,"height":57,"data":{"name":"risk"},"transform":[{"filter":"datum.p=='F'"}],"mark":{"type":"text","fontSize":10,"font":"Liberation Serif","color":"#111"},
"encoding":{"x":{"field":"t","type":"quantitative","scale":{"domain":[-3.1,63.4],"nice":false,"zero":false},"axis":null},"y":{"field":"r","type":"quantitative","scale":{"domain":[-0.5,4.981],"nice":false,"zero":false,"reverse":true},"axis":{"values":[0,1,3],"labelExpr":"['Number at risk','SII≤524.45','','SII>524.45',''][datum.value]","domain":false,"labelAlign":"left","labelPadding":32,"title":null,"labelFontSize":9.5,"labelColor":"#111","labelBound":false,"labelOverlap":false}},"text":{"field":"n"}}},
{"title":"G","width":276,"height":196,"data":{"name":"km"},"transform":[{"filter":"datum.p=='G'"}],
"encoding":{"x":{"field":"t","type":"quantitative","scale":{"domain":[-3.1,63.4],"nice":false,"zero":false},"axis":{"values":[0,10,20,30,40,50,60],"title":"Time after surgery (months)"}},"y":{"field":"s","type":"quantitative","scale":{"domain":[-4.5,105],"nice":false,"zero":false},"axis":{"values":[0,20,40,60,80,100],"title":"Overall survival %"}}},
"layer":[{"mark":{"type":"line","interpolate":"step-after","strokeWidth":1.6},"encoding":{"color":{"field":"g","type":"nominal","scale":{"domain":["SII≤524.45","SII>524.45"],"range":["#30a7ad","#892b87"]},"legend":{"title":"P=0.011","titleColor":"#b0245a"}}}},
{"transform":[{"filter":"datum.t==60"}],"mark":{"type":"point","shape":"M-1,0H1M0,-1V1","filled":false,"size":36,"strokeWidth":1.5,"opacity":1},"encoding":{"color":{"field":"g","type":"nominal","scale":{"domain":["SII≤524.45","SII>524.45"],"range":["#30a7ad","#892b87"]},"legend":null}}}]},
{"title":"H","width":276,"height":196,"data":{"name":"km"},"transform":[{"filter":"datum.p=='H'"}],
"encoding":{"x":{"field":"t","type":"quantitative","scale":{"domain":[-3.1,63.4],"nice":false,"zero":false},"axis":{"values":[0,10,20,30,40,50,60],"title":"Time after surgery (months)"}},"y":{"field":"s","type":"quantitative","scale":{"domain":[-4.5,105],"nice":false,"zero":false},"axis":{"values":[0,20,40,60,80,100],"title":"Overall survival %"}}},
"layer":[{"mark":{"type":"line","interpolate":"step-after","strokeWidth":1.6},"encoding":{"color":{"field":"g","type":"nominal","scale":{"domain":["SII≤524.45","SII>524.45"],"range":["#30a7ad","#892b87"]},"legend":{"title":"P=0.017","titleColor":"#b0245a"}}}},
{"transform":[{"filter":"datum.t==60"}],"mark":{"type":"point","shape":"M-1,0H1M0,-1V1","filled":false,"size":36,"strokeWidth":1.5,"opacity":1},"encoding":{"color":{"field":"g","type":"nominal","scale":{"domain":["SII≤524.45","SII>524.45"],"range":["#30a7ad","#892b87"]},"legend":null}}}]},
{"width":276,"height":55.5,"data":{"name":"risk"},"transform":[{"filter":"datum.p=='G'"}],"mark":{"type":"text","fontSize":10,"font":"Liberation Serif","color":"#111"},
"encoding":{"x":{"field":"t","type":"quantitative","scale":{"domain":[-3.1,63.4],"nice":false,"zero":false},"axis":null},"y":{"field":"r","type":"quantitative","scale":{"domain":[-0.5,4.837],"nice":false,"zero":false,"reverse":true},"axis":{"values":[0,1,3],"labelExpr":"['Number at risk','SII≤524.45','','SII>524.45',''][datum.value]","domain":false,"labelAlign":"left","labelPadding":32,"title":null,"labelFontSize":9.5,"labelColor":"#111","labelBound":false,"labelOverlap":false}},"text":{"field":"n"}}},
{"width":276,"height":55.5,"data":{"name":"risk"},"transform":[{"filter":"datum.p=='H'"}],"mark":{"type":"text","fontSize":10,"font":"Liberation Serif","color":"#111"},
"encoding":{"x":{"field":"t","type":"quantitative","scale":{"domain":[-3.1,63.4],"nice":false,"zero":false},"axis":null},"y":{"field":"r","type":"quantitative","scale":{"domain":[-0.5,4.837],"nice":false,"zero":false,"reverse":true},"axis":{"values":[0,1,3],"labelExpr":"['Number at risk','SII≤524.45','','SII>524.45',''][datum.value]","domain":false,"labelAlign":"left","labelPadding":32,"title":null,"labelFontSize":9.5,"labelColor":"#111","labelBound":false,"labelOverlap":false}},"text":{"field":"n"}}},
{"title":"I","width":276,"height":196,"data":{"name":"km"},"transform":[{"filter":"datum.p=='I'"}],
"encoding":{"x":{"field":"t","type":"quantitative","scale":{"domain":[-3.1,63.4],"nice":false,"zero":false},"axis":{"values":[0,10,20,30,40,50,60],"title":"Time after surgery (months)"}},"y":{"field":"s","type":"quantitative","scale":{"domain":[-4.5,105],"nice":false,"zero":false},"axis":{"values":[0,20,40,60,80,100],"title":"Overall survival %"}}},
"layer":[{"mark":{"type":"line","interpolate":"step-after","strokeWidth":1.6},"encoding":{"color":{"field":"g","type":"nominal","scale":{"domain":["PLR≤128.60","PLR>128.60"],"range":["#30a7ad","#892b87"]},"legend":{"title":"P < 0.001","titleColor":"#b0245a"}}}},
{"transform":[{"filter":"datum.t==60"}],"mark":{"type":"point","shape":"M-1,0H1M0,-1V1","filled":false,"size":36,"strokeWidth":1.5,"opacity":1},"encoding":{"color":{"field":"g","type":"nominal","scale":{"domain":["PLR≤128.60","PLR>128.60"],"range":["#30a7ad","#892b87"]},"legend":null}}}]},
{"title":"J","width":276,"height":196,"data":{"name":"km"},"transform":[{"filter":"datum.p=='J'"}],
"encoding":{"x":{"field":"t","type":"quantitative","scale":{"domain":[-3.1,63.4],"nice":false,"zero":false},"axis":{"values":[0,10,20,30,40,50,60],"title":"Time after surgery (months)"}},"y":{"field":"s","type":"quantitative","scale":{"domain":[-4.5,105],"nice":false,"zero":false},"axis":{"values":[0,20,40,60,80,100],"title":"Overall survival %"}}},
"layer":[{"mark":{"type":"line","interpolate":"step-after","strokeWidth":1.6},"encoding":{"color":{"field":"g","type":"nominal","scale":{"domain":["PLR≤128.60","PLR>128.60"],"range":["#30a7ad","#892b87"]},"legend":{"title":"P=0.465"}}}},
{"transform":[{"filter":"datum.t==60"}],"mark":{"type":"point","shape":"M-1,0H1M0,-1V1","filled":false,"size":36,"strokeWidth":1.5,"opacity":1},"encoding":{"color":{"field":"g","type":"nominal","scale":{"domain":["PLR≤128.60","PLR>128.60"],"range":["#30a7ad","#892b87"]},"legend":null}}}]},
{"width":276,"height":46,"data":{"name":"risk"},"transform":[{"filter":"datum.p=='I'"}],"mark":{"type":"text","fontSize":10,"font":"Liberation Serif","color":"#111"},
"encoding":{"x":{"field":"t","type":"quantitative","scale":{"domain":[-3.1,63.4],"nice":false,"zero":false},"axis":null},"y":{"field":"r","type":"quantitative","scale":{"domain":[-0.5,3.923],"nice":false,"zero":false,"reverse":true},"axis":{"values":[0,1,3],"labelExpr":"['Number at risk','PLR≤128.60','','PLR>128.60',''][datum.value]","domain":false,"labelAlign":"left","labelPadding":32,"title":null,"labelFontSize":9.5,"labelColor":"#111","labelBound":false,"labelOverlap":false}},"text":{"field":"n"}}},
{"width":276,"height":46,"data":{"name":"risk"},"transform":[{"filter":"datum.p=='J'"}],"mark":{"type":"text","fontSize":10,"font":"Liberation Serif","color":"#111"},
"encoding":{"x":{"field":"t","type":"quantitative","scale":{"domain":[-3.1,63.4],"nice":false,"zero":false},"axis":null},"y":{"field":"r","type":"quantitative","scale":{"domain":[-0.5,3.923],"nice":false,"zero":false,"reverse":true},"axis":{"values":[0,1,3],"labelExpr":"['Number at risk','PLR≤128.60','','PLR>128.60',''][datum.value]","domain":false,"labelAlign":"left","labelPadding":32,"title":null,"labelFontSize":9.5,"labelColor":"#111","labelBound":false,"labelOverlap":false}},"text":{"field":"n"}}},
{"title":"K","width":276,"height":196,"data":{"name":"km"},"transform":[{"filter":"datum.p=='K'"}],
"encoding":{"x":{"field":"t","type":"quantitative","scale":{"domain":[-3.1,63.4],"nice":false,"zero":false},"axis":{"values":[0,10,20,30,40,50,60],"title":"Time after surgery (months)"}},"y":{"field":"s","type":"quantitative","scale":{"domain":[-4.5,105],"nice":false,"zero":false},"axis":{"values":[0,20,40,60,80,100],"title":"Overall survival %"}}},
"layer":[{"mark":{"type":"line","interpolate":"step-after","strokeWidth":1.6},"encoding":{"color":{"field":"g","type":"nominal","scale":{"domain":["PLR≤128.60","PLR>128.60"],"range":["#30a7ad","#892b87"]},"legend":{"title":"P=0.717"}}}},
{"transform":[{"filter":"datum.t==60"}],"mark":{"type":"point","shape":"M-1,0H1M0,-1V1","filled":false,"size":36,"strokeWidth":1.5,"opacity":1},"encoding":{"color":{"field":"g","type":"nominal","scale":{"domain":["PLR≤128.60","PLR>128.60"],"range":["#30a7ad","#892b87"]},"legend":null}}}]},
{"title":"L","width":276,"height":196,"data":{"name":"km"},"transform":[{"filter":"datum.p=='L'"}],
"encoding":{"x":{"field":"t","type":"quantitative","scale":{"domain":[-3.1,63.4],"nice":false,"zero":false},"axis":{"values":[0,10,20,30,40,50,60],"title":"Time after surgery (months)"}},"y":{"field":"s","type":"quantitative","scale":{"domain":[-4.5,105],"nice":false,"zero":false},"axis":{"values":[0,20,40,60,80,100],"title":"Overall survival %"}}},
"layer":[{"mark":{"type":"line","interpolate":"step-after","strokeWidth":1.6},"encoding":{"color":{"field":"g","type":"nominal","scale":{"domain":["PLR≤128.60","PLR>128.60"],"range":["#30a7ad","#892b87"]},"legend":{"title":"P=0.001","titleColor":"#b0245a"}}}},
{"transform":[{"filter":"datum.t==60"}],"mark":{"type":"point","shape":"M-1,0H1M0,-1V1","filled":false,"size":36,"strokeWidth":1.5,"opacity":1},"encoding":{"color":{"field":"g","type":"nominal","scale":{"domain":["PLR≤128.60","PLR>128.60"],"range":["#30a7ad","#892b87"]},"legend":null}}}]},
{"width":276,"height":50,"data":{"name":"risk"},"transform":[{"filter":"datum.p=='K'"}],"mark":{"type":"text","fontSize":10,"font":"Liberation Serif","color":"#111"},
"encoding":{"x":{"field":"t","type":"quantitative","scale":{"domain":[-3.1,63.4],"nice":false,"zero":false},"axis":null},"y":{"field":"r","type":"quantitative","scale":{"domain":[-0.5,4.308],"nice":false,"zero":false,"reverse":true},"axis":{"values":[0,1,3],"labelExpr":"['Number at risk','PLR≤128.60','','PLR>128.60',''][datum.value]","domain":false,"labelAlign":"left","labelPadding":32,"title":null,"labelFontSize":9.5,"labelColor":"#111","labelBound":false,"labelOverlap":false}},"text":{"field":"n"}}},
{"width":276,"height":50,"data":{"name":"risk"},"transform":[{"filter":"datum.p=='L'"}],"mark":{"type":"text","fontSize":10,"font":"Liberation Serif","color":"#111"},
"encoding":{"x":{"field":"t","type":"quantitative","scale":{"domain":[-3.1,63.4],"nice":false,"zero":false},"axis":null},"y":{"field":"r","type":"quantitative","scale":{"domain":[-0.5,4.308],"nice":false,"zero":false,"reverse":true},"axis":{"values":[0,1,3],"labelExpr":"['Number at risk','PLR≤128.60','','PLR>128.60',''][datum.value]","domain":false,"labelAlign":"left","labelPadding":32,"title":null,"labelFontSize":9.5,"labelColor":"#111","labelBound":false,"labelOverlap":false}},"text":{"field":"n"}}}
]
}
